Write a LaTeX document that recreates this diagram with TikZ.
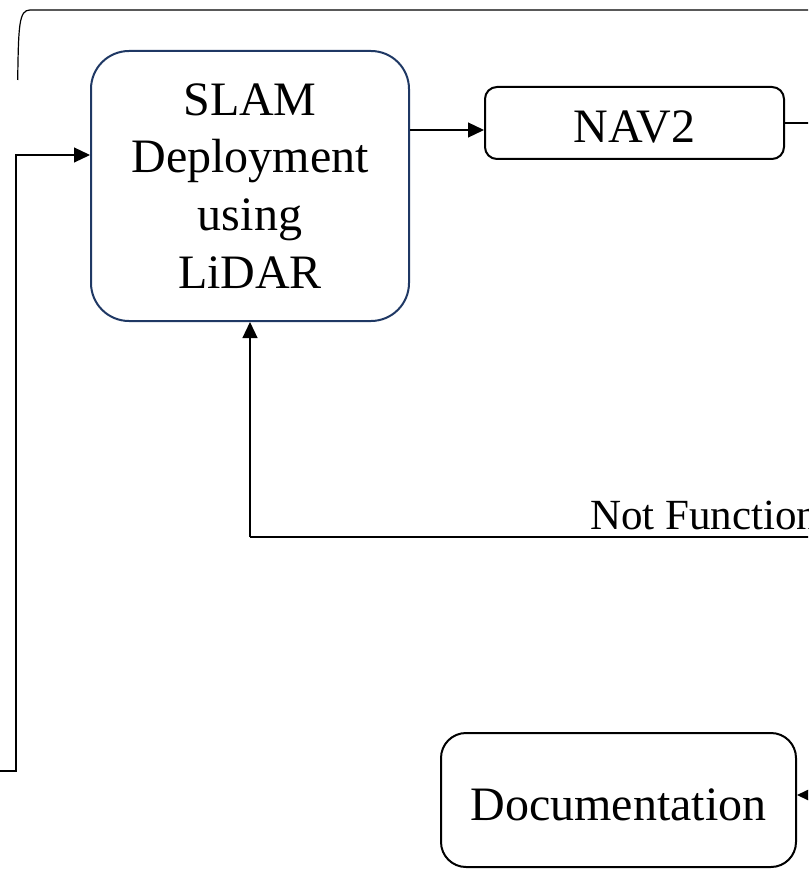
\documentclass[tikz,border=0pt]{standalone}
\usepackage{fontspec}
\setmainfont{Liberation Serif}
\usetikzlibrary{arrows.meta}
\definecolor{slamblue}{RGB}{31,56,100}
\tikzset{
  box/.style={draw, line width=2pt, rounded corners=#1, align=center,
    font=\fontsize{48}{57.7}\selectfont},
  box/.default=12pt,
  conn/.style={draw=black, line width=1.2pt},
  arr/.style={conn, -{Triangle[length=16pt,width=15pt]}},
  lbl/.style={font=\fontsize{43}{50}\selectfont, inner sep=0pt}
}
\begin{document}
\begin{tikzpicture}[x=1pt, y=-1pt]
  \clip (0,0) rectangle (808,869);
  \useasboundingbox (0,0) rectangle (808,869);

  % process boxes
  \node[box=38pt, draw=slamblue, minimum width=318pt, minimum height=270pt]
    (slam) at (250,186) {SLAM\\Deployment\\using\\LiDAR};
  \node[box=12pt, minimum width=299pt, minimum height=72pt,
    text height=40pt, text depth=0pt] (nav) at (634.5,123) {NAV2};
  \node[box=25pt, minimum width=355pt, minimum height=134pt,
    text height=40pt, text depth=0pt] (doc) at (618.5,800) {Documentation};

  % free ends running off the right and left edges
  \coordinate (topstart) at (17.7,80);
  \coordinate (topend) at (815,10);
  \coordinate (navout) at (815,123);
  \coordinate (nfright) at (815,537);
  \coordinate (nfcorner) at (250,537);
  \coordinate (docin) at (815,795);
  \coordinate (loopin) at (-5,771);
  \coordinate (loopbottom) at (16,771);
  \coordinate (looptop) at (16,155);

  % top return line
  \draw[conn] (topstart) .. controls (18.5,25) and (19,10) .. (30,10) -- (topend);

  % SLAM -> NAV2 and onward
  \draw[arr] ([yshift=-7pt]nav.west -| slam.east) -- ([yshift=-7pt]nav.west);
  \draw[conn] (nav.east) -- (navout);

  % "Not Function" feedback into SLAM
  \draw[conn] (nfright) -- (nfcorner);
  \draw[arr] (nfcorner) -- (slam.south);
  \node[lbl, anchor=base west] (nf) at (590,529) {Not Function};

  % left loop into SLAM
  \draw[arr] (loopin) -- (loopbottom) -- (looptop) -- (looptop -| slam.west);

  % arrow into Documentation
  \draw[arr] (docin) -- ([yshift=5pt]doc.east);
\end{tikzpicture}
\end{document}
